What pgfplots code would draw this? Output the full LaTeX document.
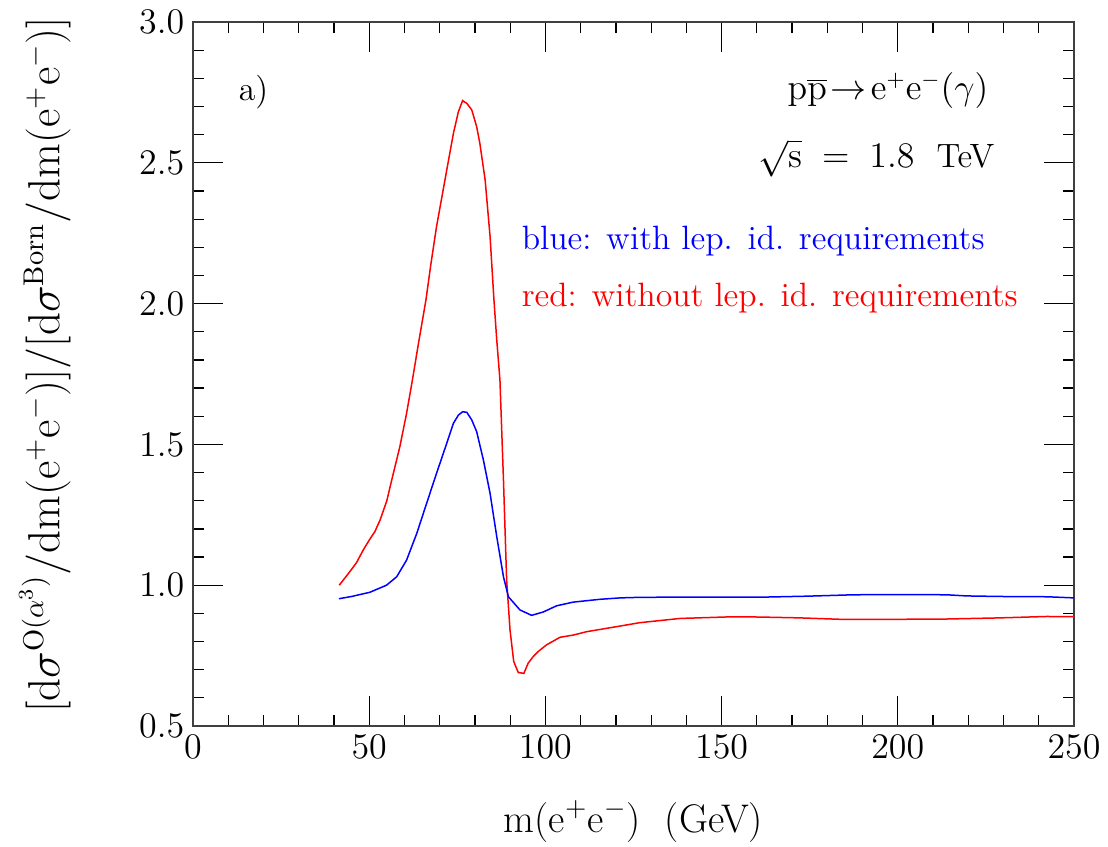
\documentclass[border=0pt]{standalone}
\usepackage{pgfplots}
\pgfplotsset{compat=1.18}
\usepackage{graphicx}
\begin{document}
\begin{tikzpicture}
\begin{axis}[
  at={(0,0)}, anchor=south west,
  scale only axis, width=352.4pt, height=281.6pt,
  xmin=0, xmax=250, ymin=0.5, ymax=3.0,
  xtick={0,50,...,250}, ytick={0.5,1.0,...,3.0},
  minor x tick num=4, minor y tick num=4,
  tick align=inside,
  major tick length=12pt, minor tick length=4.4pt,
  every tick/.style={black, line width=0.5pt},
  axis line style={line width=0.8pt, black!75},
  tick label style={font=\fontsize{13.5}{16}\selectfont},
  yticklabel style={/pgf/number format/.cd, fixed, fixed zerofill, precision=1},
  xticklabel style={/pgf/number format/.cd, fixed, precision=0},
  clip=false,
]
\addplot[red, line width=0.6pt] coordinates {
(41.5,1.00)(44,1.04)(46.4,1.08)(48.3,1.125)(50,1.16)(51.6,1.19)(53.1,1.232)(55,1.30)
(56.4,1.374)(58.7,1.492)(60.6,1.61)(62.1,1.717)(64,1.86)(66.1,2.013)(67.5,2.14)
(69.1,2.273)(70.5,2.37)(72.0,2.474)(73.9,2.605)(75.3,2.681)(76.5,2.721)(77.7,2.711)
(79.1,2.688)(80.5,2.628)(81.4,2.569)(82.9,2.439)(84.3,2.238)(85.4,2.013)(86.2,1.87)
(87.1,1.729)(88.1,1.374)(89.0,1.018)(89.96,0.841)(91.0,0.73)(91.4,0.717)(92.3,0.69)
(93.9,0.687)(95.1,0.723)(96.5,0.746)(98,0.765)(100.3,0.788)(102,0.80)(104.1,0.815)
(107.9,0.823)(111.7,0.835)(115.5,0.843)(121.2,0.855)(126.8,0.867)(138.2,0.882)
(153.3,0.888)(160.9,0.887)(172.2,0.884)(183.6,0.879)(200.6,0.879)(213.9,0.880)
(229,0.884)(242.3,0.889)(250,0.888)
};
\addplot[blue, line width=0.6pt] coordinates {
(41.4,0.952)(45,0.960)(50.2,0.975)(54.9,1.000)(57.8,1.030)(60.6,1.089)(63.5,1.184)
(66.3,1.291)(69.1,1.397)(72.0,1.504)(73.9,1.575)(75.3,1.604)(76.5,1.616)(77.7,1.614)
(79.1,1.587)(80.5,1.545)(82.4,1.445)(84.3,1.326)(86.2,1.172)(88.1,1.030)(89.5,0.959)
(92.8,0.912)(96.1,0.893)(99.4,0.905)(103.2,0.927)(107.9,0.940)(115.5,0.950)
(121.2,0.955)(126.8,0.957)(144,0.958)(162.8,0.958)(174.1,0.961)(187.4,0.966)
(200.6,0.967)(213.9,0.966)(219.4,0.962)(229,0.960)(242.3,0.959)(250,0.955)
};
\node[anchor=west, font=\fontsize{13.5}{16}\selectfont] at (axis cs:10.5,2.751) {a)};
\node[anchor=east, font=\fontsize{13.5}{16}\selectfont] at (axis cs:228.2,2.758)
  {$\mathrm{p}\overline{\mathrm{p}}\!\rightarrow\!\mathrm{e^+e^-}(\gamma)$};
\node[anchor=east, font=\fontsize{13.5}{16}\selectfont] at (axis cs:229.9,2.517)
  {$\sqrt{\mathrm{s}}\;=\;1.8$\ \ TeV};
\node[anchor=west, blue, font=\fontsize{13.5}{16}\selectfont] at (axis cs:90.8,2.222)
  {blue: with lep. id. requirements};
\node[anchor=west, red, font=\fontsize{13.5}{16}\selectfont] at (axis cs:90.8,2.020)
  {red: without lep. id. requirements};
\node[font=\fontsize{16}{19}\selectfont] at (rel axis cs:0.5,-0.136)
  {m(e$^+$e$^-$)\ \ (GeV)};
\node[rotate=90, font=\fontsize{16}{19}\selectfont] at (rel axis cs:-0.168,0.513)
  {\resizebox{278.4pt}{!}{$[\mathrm{d}\sigma^{\mathrm{O}(\alpha^3)}/\mathrm{dm(e^+e^-)}]/[\mathrm{d}\sigma^{\mathrm{Born}}/\mathrm{dm(e^+e^-)}]$}};
\end{axis}
\pgfresetboundingbox
\path[use as bounding box] (-77.2pt,-48pt) rectangle (366pt,290.4pt);
\end{tikzpicture}
\end{document}
